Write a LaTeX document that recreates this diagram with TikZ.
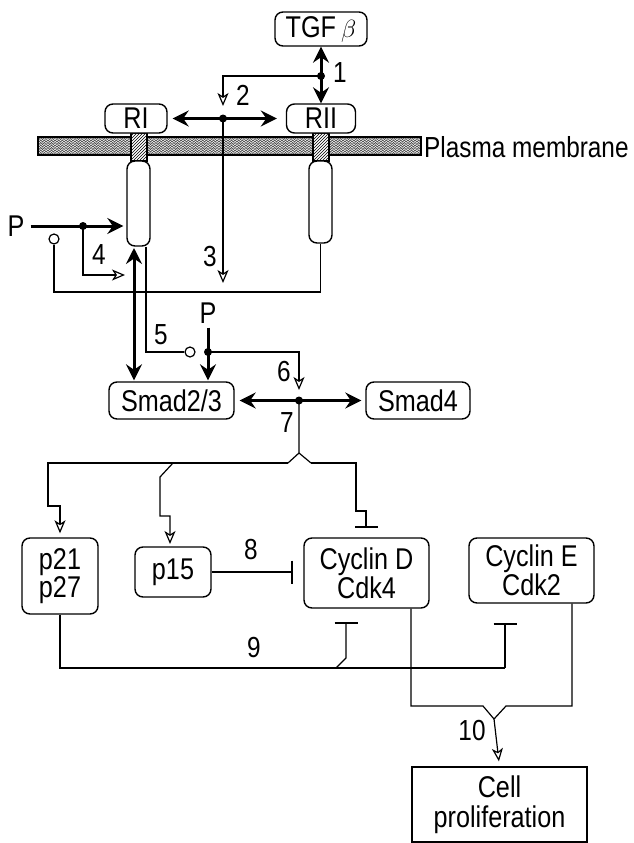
\documentclass[tikz,border=0pt]{standalone}
\usepackage{fontspec}
\setmainfont[FakeStretch=0.84]{Liberation Sans}
\usetikzlibrary{arrows.meta,patterns,decorations.pathmorphing}
\tikzset{
  tipb/.tip={Stealth[length=16pt,width=16pt,inset=5.5pt]},
  topen/.tip={Stealth[open,length=13pt,width=11pt,inset=3.5pt,line width=1.2pt]},
  tbar/.tip={Bar[width=23pt,line width=1.8pt]},
}
\begin{document}
\begin{tikzpicture}[x=1pt,y=-1pt,
  every node/.style={font=\fontsize{30}{27}\selectfont, inner sep=0pt},
  box/.style={draw, line width=1.4pt, rounded corners=8pt, align=center, fill=white},
  sqbox/.style={draw, line width=1.4pt, align=center, fill=white},
  thinln/.style={line width=1.2pt},
  thickln/.style={line width=3pt},
  dotc/.style={circle, fill=black, minimum size=8pt},
  opc/.style={circle, draw, line width=1.2pt, fill=white, minimum size=10pt},
  lbl/.style={font=\fontsize{29}{29}\selectfont},
  tube/.style={draw, line width=1.4pt, fill=white, rounded corners=8pt},
  tmseg/.style={draw, line width=1.4pt, preaction={fill=white}, pattern=north east lines},
]
\useasboundingbox (0,0) rectangle (633,843);

% ---- membrane ----
\begin{scope}
  \clip (38,137) rectangle (421,155);
  \fill[white] (38,137) rectangle (421,155);
  \foreach \yy in {138.5,141,143.5,146,148.5,151,153.5}{
    \draw[gray!55!black, line width=0.7pt, decorate, decoration={snake, amplitude=1.1pt, segment length=3.6pt}] (36,\yy) -- (424,\yy);
  }
\end{scope}
\node[draw, line width=1.2pt, minimum width=383pt, minimum height=18pt] (mem) at (229.5,146) {};
\node[anchor=west, font=\fontsize{29}{29}\selectfont] (pmlab) at (424,147) {Plasma membrane};

% ---- receptors ----
\node[tmseg, minimum width=16pt, minimum height=28pt] (ritm) at (139,147) {};
\node[tmseg, minimum width=16pt, minimum height=28pt] (riitm) at (321,147) {};
\node[tube, minimum width=23pt, minimum height=85pt] (rit) at (138.5,203.5) {};
\node[tube, minimum width=23pt, minimum height=82pt] (riit) at (320.5,202) {};

\node[box, minimum width=92pt, minimum height=34pt] (tgf) at (321,29) {TGF\,$\beta$};
\node[box, minimum width=62pt, minimum height=29pt] (ri) at (136,118.5) {RI};
\node[box, minimum width=69pt, minimum height=29pt] (rii) at (321,118.5) {RII};

% 1
\coordinate (d1) at (321,76);
\draw[thickln, tipb-tipb] (tgf.south) -- (rii.north);
\node[dotc] at (d1) {};
\node[lbl] (l1) at (340,73) {1};
% 2
\coordinate (e2) at (223,106);
\draw[thinln, -topen] (d1) -| (e2);
\node[lbl] (l2) at (243,95) {2};
% RI-RII
\coordinate (d2) at (223,118.5);
\draw[thickln, tipb-tipb, shorten <=5pt, shorten >=9pt] (ri.east) -- (rii.west);
\node[dotc] at (d2) {};
% 3
\coordinate (e3) at (223,283);
\draw[thinln, -topen] (d2) -- (e3);
\node[lbl] (l3) at (210,257) {3};

% P left and 4
\node (pl) at (16,226) {P};
\coordinate (d4) at (83,226);
\draw[thickln, -tipb, shorten <=6pt, shorten >=3pt] (pl.east) -- (pl.east -| rit.west);
\node[dotc] at (d4) {};
\coordinate (e4) at (125,275);
\draw[thinln, -topen] (d4) |- (e4);
\node[lbl] (l4) at (99,255) {4};
\node[opc] (o4) at (54,239) {};
\coordinate (low) at (54,292);
\draw[thinln] (riit.south) |- (low) -- (o4.south);

% Smads
\node[box, minimum width=125pt, minimum height=37pt] (smad) at (171.5,400.5) {Smad2/3};
\node[box, minimum width=104pt, minimum height=37pt] (smad4) at (418,400.5) {Smad4};

\coordinate (a5) at (134,247);
\draw[thickln, tipb-tipb, shorten <=1pt, shorten >=1pt] (a5) -- (a5 |- smad.north);
% 5
\coordinate (r5) at (146,246.5);
\node[opc] (o5) at (190,352) {};
\draw[thinln] (r5) |- (o5.west);
\node[lbl] (l5) at (161,335) {5};
% P middle and 6
\node (pm) at (208,313) {P};
\coordinate (d6) at (208,352);
\draw[thickln, -tipb, shorten <=4pt, shorten >=1pt] (pm.south) -- (pm.south |- smad.north);
\node[dotc] at (d6) {};
\coordinate (e6) at (299,390);
\draw[thinln, -topen] (d6) -| (e6);
\node[lbl] (l6) at (284,372) {6};
% 7
\coordinate (d7) at (299,400.5);
\draw[thickln, tipb-tipb, shorten <=5pt, shorten >=4pt] (smad.east) -- (smad4.west);
\node[dotc] at (d7) {};
\node[lbl] (l7) at (287,423) {7};

% lower boxes
\node[box, minimum width=76pt, minimum height=76pt] (p21) at (60,576) {p21\\p27};
\node[box, minimum width=76pt, minimum height=50pt] (p15) at (173,572) {p15};
\node[box, minimum width=125pt, minimum height=70pt] (cycd) at (366.5,573) {Cyclin D\\Cdk4};
\node[box, minimum width=125pt, minimum height=65pt] (cyce) at (531.5,570.5) {Cyclin E\\Cdk2};
\node[sqbox, minimum width=175pt, minimum height=75pt, font=\fontsize{30}{30}\selectfont] (cell) at (499.5,804.5) {Cell\\proliferation};

% fork of 7
\coordinate (f7) at (299,453);
\coordinate (fl) at (288,463);
\coordinate (fr) at (311,463);
\draw[thinln] (d7) -- (f7) -- (fl);
\draw[thinln] (f7) -- (fr);
\draw[thinln, -topen, shorten >=4pt] (fl) -- (48,463) -- (48,506) -- (60,506) -- (p21.north);
\draw[thinln, -topen, shorten >=5pt] (173,463) -- (160,477) -- (160,516) -- (170,516) -- (170,549);
\draw[thinln, -tbar] (fr) -- (356,463) -- (356,511) -- (366,511) -- (366,528);

% 8
\coordinate (b8) at (293,572);
\draw[thinln, -tbar] (p15.east) -- (b8);
\node[lbl] (l8) at (251,550) {8};

% 9
\coordinate (j9) at (505,668);
\coordinate (k9) at (336,668);
\draw[thinln] (p21.south) |- (j9);
\draw[thinln, -tbar] (j9) -- (505,623);
\draw[thinln, -tbar] (k9) -- (346,658) -- (346,622);
\node[lbl] (l9) at (254,648) {9};

% 10
\coordinate (v10) at (494,719);
\draw[thinln] (cycd.south -| 411,0) |- (483,706) -- (v10);
\draw[thinln] (cyce.south -| 572,0) |- (506,706) -- (v10);
\draw[thinln, -topen, shorten >=5pt] (v10) -- (cell.north);
\node[lbl] (l10) at (472,731) {10};
\end{tikzpicture}
\end{document}
